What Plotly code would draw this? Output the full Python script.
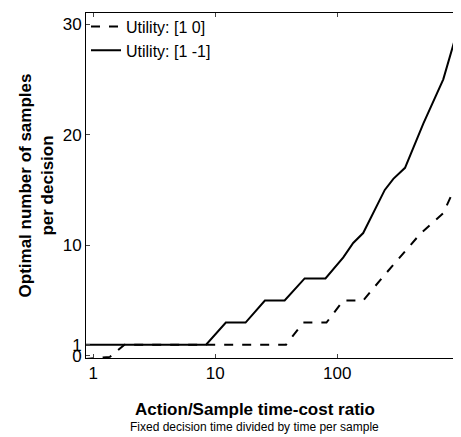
import plotly.graph_objects as go

solid_x = [0.85, 8.4, 12.2, 17.7, 25.5, 37, 54, 80, 112, 135, 163, 245, 288, 359, 507, 739, 1032]
solid_y = [1, 1, 3, 3, 5, 5, 7, 7, 8.9, 10.2, 11.1, 15, 16, 17, 21, 25, 30.5]
dash_x = [0.85, 1.37, 1.8, 38, 52.6, 81.5, 112, 163, 231, 326, 476, 739, 1032]
dash_y = [-0.3, -0.1, 1, 1, 3, 3, 5, 5, 7, 8.9, 11, 12.9, 16.4]

fig = go.Figure()
fig.add_trace(go.Scatter(x=dash_x, y=dash_y, mode="lines", name="Utility: [1 0]",
                         line=dict(color="black", width=2, dash="dash")))
fig.add_trace(go.Scatter(x=solid_x, y=solid_y, mode="lines", name="Utility: [1 -1]",
                         line=dict(color="black", width=2)))
font = "Liberation Sans, Arial, sans-serif"
fig.update_layout(
    width=453, height=429, margin=dict(l=78, r=0, t=5, b=79, autoexpand=False),
    paper_bgcolor="white", plot_bgcolor="white",
    font=dict(family=font, color="black", size=16),
    showlegend=True,
    legend=dict(x=0.0, y=1.01, xanchor="left", yanchor="top", bgcolor="rgba(0,0,0,0)",
                font=dict(size=16), tracegroupgap=0, itemwidth=30),
    xaxis=dict(type="log", range=[-0.06, 3.014], tickvals=[1, 10, 100, 1000],
               ticktext=["1", "10", "100", "1000"], ticks="inside", ticklen=4,
               showline=True, linecolor="black", mirror="ticks", showgrid=False,
               zeroline=False, tickfont=dict(size=17), automargin=False),
    yaxis=dict(range=[-0.2, 31], tickvals=[0, 1, 10, 20, 30], ticks="inside", ticklen=4,
               showline=True, linecolor="black", mirror="ticks", showgrid=False,
               zeroline=False, tickfont=dict(size=17), automargin=False,
               title=dict(text="<b>Optimal number of samples<br>per decision</b>",
                          font=dict(size=17), standoff=4)),
)
fig.add_annotation(text="<b>Action/Sample time-cost ratio</b>", xref="paper", yref="paper",
                   x=0.45, y=-0.115, xanchor="center", yanchor="top", showarrow=False,
                   font=dict(size=17))
fig.add_annotation(text="Fixed decision time divided by time per sample", xref="paper", yref="paper",
                   x=0.45, y=-0.175, xanchor="center", yanchor="top", showarrow=False,
                   font=dict(size=12))
fig.write_html("out.html")
